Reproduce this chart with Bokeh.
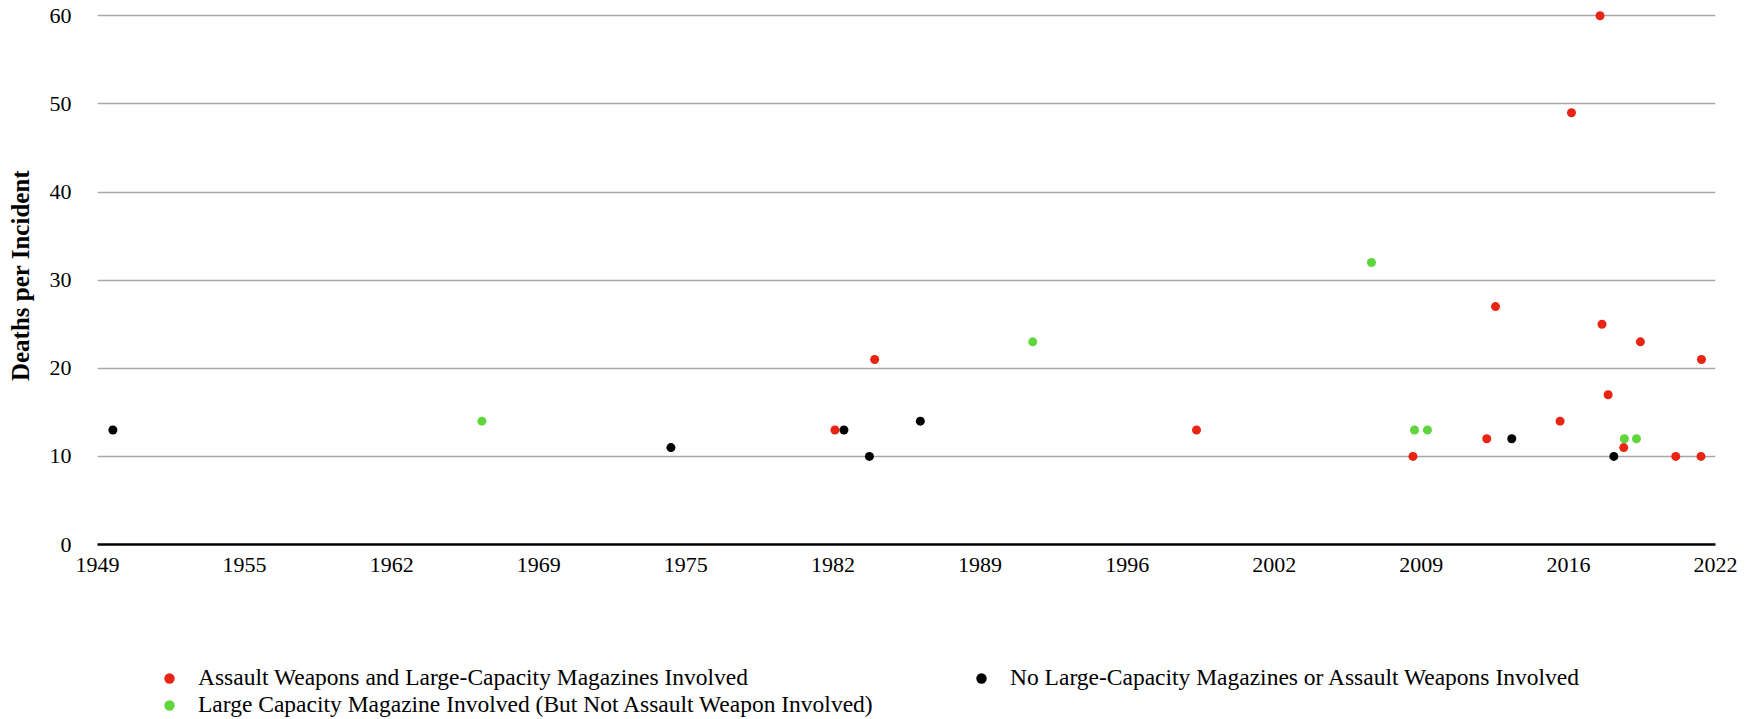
from bokeh.plotting import figure
from bokeh.layouts import column
from bokeh.models import FixedTicker, Legend, LegendItem, Range1d
from bokeh.embed import file_html
from bokeh.resources import INLINE

# ---- data (decimal year of incident, deaths) ----
assault_years = [1982.74, 1984.55, 1999.21, 2009.07, 2012.43, 2012.83, 2015.77, 2016.29,
                 2017.59, 2017.68, 2017.96, 2018.67, 2019.43, 2021.04, 2022.19, 2022.21]
assault_deaths = [13, 21, 13, 10, 12, 27, 14, 49, 60, 25, 17, 11, 23, 10, 10, 21]

lcm_years = [1966.66, 1991.75, 2007.18, 2009.14, 2009.73, 2018.70, 2019.25]
lcm_deaths = [14, 23, 32, 13, 13, 12, 12]

none_years = [1949.85, 1975.27, 1983.15, 1984.31, 1986.63, 2013.57, 2018.22]
none_deaths = [13, 11, 13, 10, 14, 12, 10]

series_labels = [
    "Assault Weapons and Large-Capacity Magazines Involved",
    "Large Capacity Magazine Involved (But Not Assault Weapon Involved)",
    "No Large-Capacity Magazines or Assault Weapons Involved",
]
series_colors = ["#ea2413", "#5fd63c", "#000000"]

x_tick_labels = ["1949", "1955", "1962", "1969", "1975", "1982", "1989", "1996",
                 "2002", "2009", "2016", "2022"]
y_ticks = [0, 10, 20, 30, 40, 50, 60]

X_START, X_END = 1949.15, 2022.85
n = len(x_tick_labels)
x_ticks = [round(X_START + k * (X_END - X_START) / (n - 1), 4) for k in range(n)]

FONT = "Liberation Serif"
W = 1754
H_MAIN = 630
H_LEG = 89

p = figure(width=W, height=H_MAIN, output_backend="svg", toolbar_location=None,
           x_range=Range1d(X_START, X_END), y_range=Range1d(0, 61.055),
           min_border_left=97, min_border_right=39, min_border_top=6, min_border_bottom=86)
p.outline_line_color = None
p.background_fill_color = "white"

# grid
p.xgrid.grid_line_color = None
p.ygrid.grid_line_color = "#a8a8a8"
p.ygrid.grid_line_width = 1.3
p.ygrid.ticker = FixedTicker(ticks=y_ticks)

# x axis
p.xaxis.ticker = FixedTicker(ticks=x_ticks)
p.xaxis.major_label_overrides = {t: lab for t, lab in zip(x_ticks, x_tick_labels)}
p.xaxis.axis_line_color = "black"
p.xaxis.axis_line_width = 2.3
p.xaxis.major_tick_line_color = None
p.xaxis.minor_tick_line_color = None
p.xaxis.major_tick_out = 0
p.xaxis.major_tick_in = 0
p.xaxis.major_label_standoff = 13
p.xaxis.major_label_text_font = FONT
p.xaxis.major_label_text_font_size = "22px"
p.xaxis.major_label_text_color = "black"

# y axis
p.yaxis.ticker = FixedTicker(ticks=y_ticks)
p.yaxis.axis_line_color = None
p.yaxis.major_tick_line_color = None
p.yaxis.minor_tick_line_color = None
p.yaxis.major_tick_out = 0
p.yaxis.major_tick_in = 0
p.yaxis.major_label_standoff = 26
p.yaxis.major_label_text_font = FONT
p.yaxis.major_label_text_font_size = "22px"
p.yaxis.major_label_text_color = "black"
p.yaxis.axis_label = "Deaths per Incident"
p.yaxis.axis_label_text_font = FONT
p.yaxis.axis_label_text_font_style = "bold"
p.yaxis.axis_label_text_font_size = "25px"
p.yaxis.axis_label_text_color = "black"
p.yaxis.axis_label_standoff = 13

p.scatter(assault_years, assault_deaths, size=9, color=series_colors[0], line_color=None)
p.scatter(lcm_years, lcm_deaths, size=9, color=series_colors[1], line_color=None)
p.scatter(none_years, none_deaths, size=9, color=series_colors[2], line_color=None)

# ---- legend strip below the chart (its frame is aligned with the chart's frame) ----
q = figure(width=W, height=H_LEG, output_backend="svg", toolbar_location=None,
           x_range=Range1d(0, 1), y_range=Range1d(0, 1),
           x_axis_location=None, y_axis_location=None,
           min_border_left=0, min_border_right=0, min_border_top=0, min_border_bottom=0)
q.outline_line_color = None
q.xgrid.grid_line_color = None
q.ygrid.grid_line_color = None

# legend-only glyph renderers, placed outside the visible range
leg_renderers = [q.scatter([-10], [-10], size=11, color=c, line_color=None) for c in series_colors]

legend = Legend(
    items=[LegendItem(label=lab, renderers=[r]) for lab, r in zip(series_labels, leg_renderers)],
    location=(59, 1), orientation="vertical", nrows=2,
    glyph_width=26, glyph_height=26, label_standoff=16, label_width=770, label_height=26,
    spacing=0, padding=0, margin=0,
    border_line_color=None, background_fill_alpha=0,
    label_text_font=FONT, label_text_font_size="23.5px", label_text_color="black",
)
q.add_layout(legend, "center")

layout = column(p, q, spacing=0)
open("out.html", "w").write(file_html(layout, INLINE))
